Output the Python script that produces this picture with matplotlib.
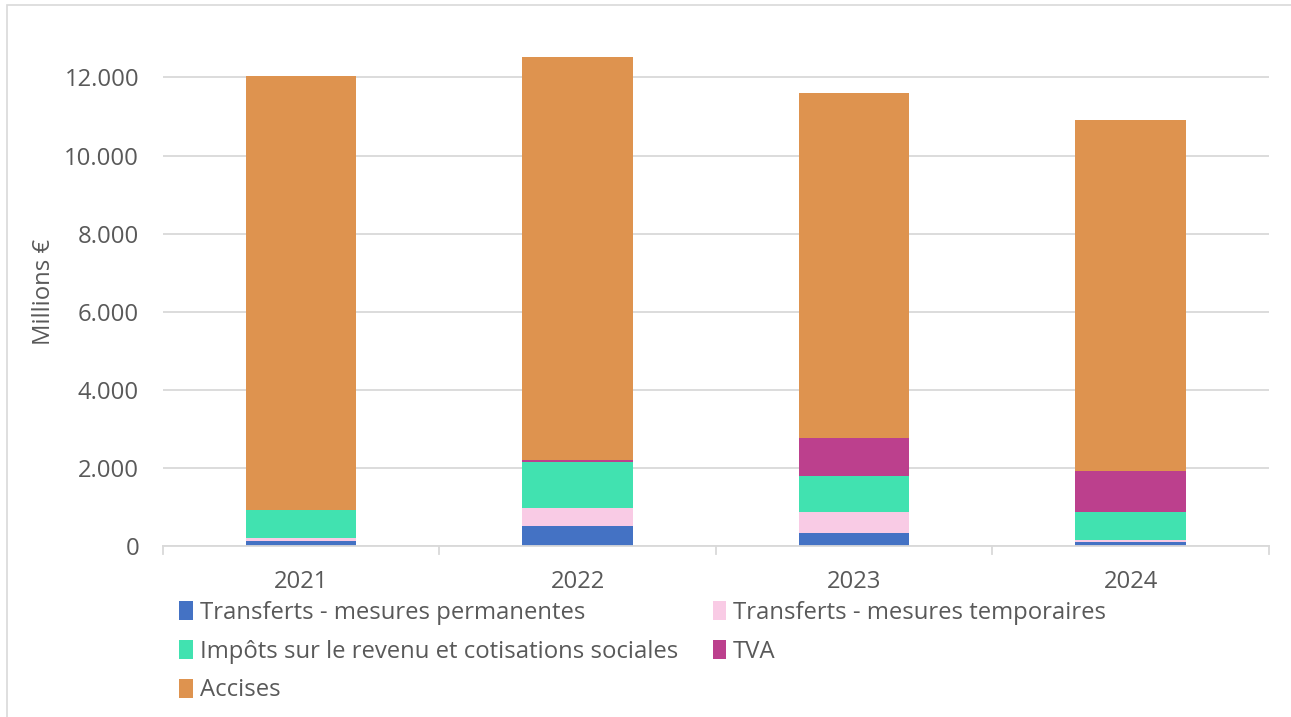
import matplotlib
matplotlib.use("Agg")
import matplotlib.pyplot as plt
from matplotlib.patches import Rectangle
import numpy as np

plt.rcParams['font.family'] = ['Open Sans', 'DejaVu Sans']

years = ["2021", "2022", "2023", "2024"]
series_names = [
    "Transferts - mesures permanentes",
    "Transferts - mesures temporaires",
    "Impôts sur le revenu et cotisations sociales",
    "TVA",
    "Accises",
]
transferts_perm = [130, 512, 333, 110]
transferts_temp = [70, 453, 545, 44]
impots = [715, 1177, 913, 716]
tva = [0, 51, 965, 1041]
accises = [11110, 10319, 8835, 8989]
colors = ["#4472C4", "#F9CBE5", "#41E2B0", "#BC408D", "#DE934F"]

yticks = [0, 2000, 4000, 6000, 8000, 10000, 12000]
ytick_labels = ["0", "2.000", "4.000", "6.000", "8.000", "10.000", "12.000"]

FS = 17.2
fig = plt.figure(figsize=(12.91, 7.17), dpi=100)
ax = fig.add_axes([0.126, 0.2385, 0.857, 0.708])

# outer border
fig.patches.append(Rectangle((0.0055, -0.01), 1.0, 1.003, transform=fig.transFigure,
                             fill=False, edgecolor="#D9D9D9", linewidth=1.2))

x = np.arange(len(years))
bottom = np.zeros(len(years))
data = [transferts_perm, transferts_temp, impots, tva, accises]
handles = []
for vals, col, name in zip(data, colors, series_names):
    b = ax.bar(x, vals, width=0.4, bottom=bottom, color=col, label=name, zorder=3)
    handles.append(b)
    bottom += np.array(vals)

ax.set_xlim(-0.5, 3.5)
ax.set_ylim(0, 13000)
ax.set_yticks(yticks)
ax.set_yticklabels(ytick_labels)
ax.set_xticks(x)
ax.set_xticklabels(years)
ax.grid(axis='y', color="#D9D9D9", linewidth=1.3, zorder=0)
for s in ["top", "right", "left"]:
    ax.spines[s].set_visible(False)
ax.spines["bottom"].set_color("#D9D9D9")
ax.spines["bottom"].set_linewidth(1.3)
ax.spines["bottom"].set_zorder(4)
ax.tick_params(axis='y', length=0, labelsize=FS, labelcolor="#595959", pad=17)
ax.tick_params(axis='x', length=0, labelsize=FS, labelcolor="#595959", pad=17)
# category boundary ticks
for b in np.arange(-0.5, 4.0, 1.0):
    ax.plot([b, b], [0, -200], color="#D9D9D9", linewidth=1.3, clip_on=False, zorder=4)

ax.set_ylabel("Millions €", fontsize=FS, color="#595959", labelpad=6)

order = [0, 2, 4, 1, 3]
leg = fig.legend(handles=[handles[i] for i in order],
                 labels=[series_names[i] for i in order], loc="upper left",
                 bbox_to_anchor=(0.139, 0.162), ncol=2, frameon=False,
                 fontsize=FS, labelcolor="#595959", handlelength=0.55, handleheight=0.85,
                 handletextpad=0.3, columnspacing=1.45, labelspacing=0.62,
                 borderaxespad=0, borderpad=0)

fig.savefig("out.png", dpi=100)
